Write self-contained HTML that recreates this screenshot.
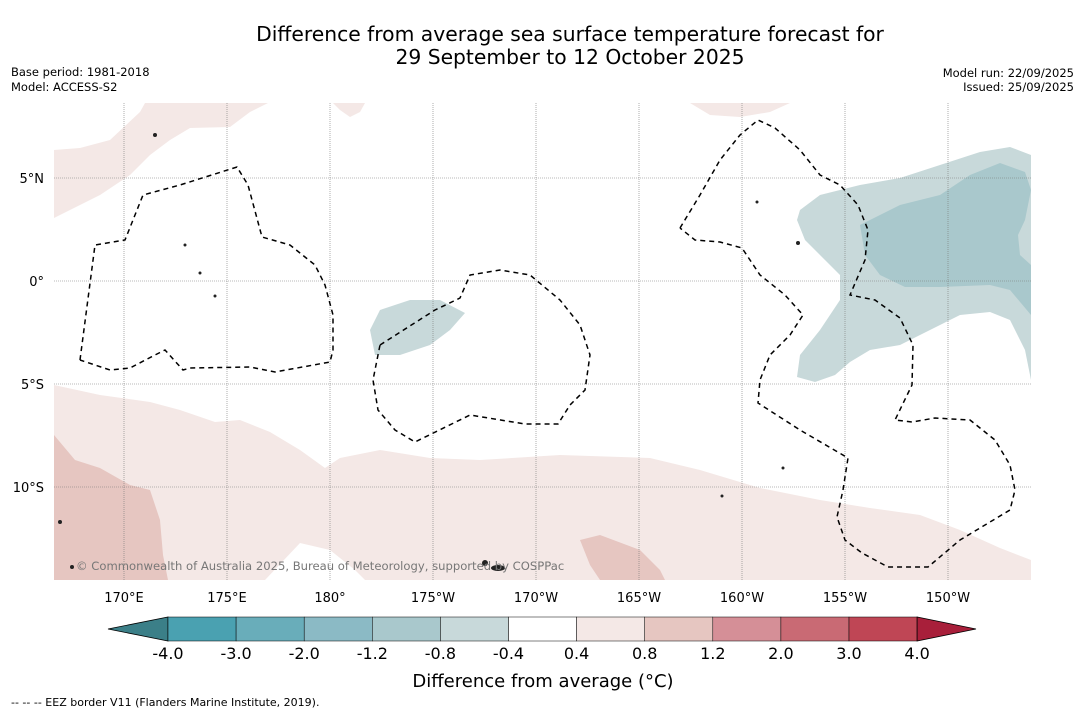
<!DOCTYPE html>
<html><head><meta charset="utf-8"><style>
body{margin:0;background:#fff;font-family:"DejaVu Sans","Liberation Sans",sans-serif}
svg{display:block;font-family:"DejaVu Sans","Liberation Sans",sans-serif}
</style></head><body>
<svg width="1085" height="713" viewBox="0 0 1085 713">
<text x="570" y="41" text-anchor="middle" font-size="20.3">Difference from average sea surface temperature forecast for</text>
<text x="570" y="64" text-anchor="middle" font-size="20.3">29 September to 12 October 2025</text>
<text x="11" y="76" font-size="11.5">Base period: 1981-2018</text>
<text x="11" y="91" font-size="11.5">Model: ACCESS-S2</text>
<text x="1074" y="77" font-size="11.5" text-anchor="end">Model run: 22/09/2025</text>
<text x="1074" y="91" font-size="11.5" text-anchor="end">Issued: 25/09/2025</text>
<defs><clipPath id="mc"><rect x="54" y="103" width="977" height="477"/></clipPath></defs>
<g clip-path="url(#mc)">
<rect x="54" y="103" width="977" height="477" fill="#fff"/>
<polygon fill="#f4e8e6" points="54,150 80,148 110,140 140,112 145,103 268,103 250,112 230,127 190,128 170,140 150,155 130,175 100,195 80,205 54,218"/>
<polygon fill="#f4e8e6" points="333,103 365,103 360,112 350,117 340,110"/>
<polygon fill="#f4e8e6" points="690,103 790,103 770,112 740,117 710,115"/>
<polygon fill="#c8d9da" points="800,210 820,195 860,185 900,178 940,165 980,152 1010,147 1031,155 1031,380 1025,350 1010,320 990,312 960,315 930,330 900,345 870,350 850,362 835,375 815,382 797,377 800,355 820,330 840,300 840,275 825,260 805,240 797,220"/>
<polygon fill="#a9c8cc" points="860,225 900,205 940,195 970,175 1000,163 1025,172 1031,190 1025,220 1018,235 1020,255 1031,265 1031,315 1010,290 990,285 940,287 905,287 880,275 865,255"/>
<polygon fill="#c8d9da" points="370,330 380,310 410,300 440,300 465,313 450,330 430,345 400,355 375,355"/>
<polygon fill="#f4e8e6" points="54,385 100,395 150,402 180,410 215,422 240,420 270,432 300,450 325,468 340,458 380,450 430,458 480,460 560,455 650,458 700,470 760,488 820,500 870,508 920,515 960,530 1000,548 1031,560 1031,580 54,580"/>
<polygon fill="#fff" points="265,580 300,543 330,550 355,570 365,580"/>
<polygon fill="#e6c6c1" points="54,435 75,460 100,468 130,485 150,490 160,520 163,555 168,580 54,580"/>
<polygon fill="#e6c6c1" points="580,540 600,535 640,550 660,570 665,580 600,580 590,565"/>
<g id="grid" stroke="#777" stroke-width="0.6" stroke-dasharray="1,1"></g>
<g fill="none" stroke="#000" stroke-width="1.5" stroke-dasharray="5,4">
<polyline points="80,360 95,245 125,240 143,195 180,185 237,167 248,185 262,237 290,245 315,265 325,285 333,315 333,350 330,362 275,372 250,367 190,368 183,370 165,350 155,355 130,368 110,370 80,360"/>
<polyline points="380,345 435,310 460,298 470,275 500,270 530,275 560,300 580,325 590,355 585,390 570,405 558,424 525,424 470,415 415,442 395,430 378,410 373,380 380,345"/>
<polyline points="680,228 700,195 720,160 740,135 758,120 775,128 800,150 820,175 840,185 858,205 868,230 865,260 850,295 875,300 900,318 913,345 912,385 895,420 912,422 935,418 970,420 995,440 1010,465 1015,490 1010,510 985,525 960,540 928,567 888,567 862,553 845,540 837,517 843,490 848,458 800,430 758,403 760,380 770,355 790,335 803,315 785,295 760,275 742,248 720,242 695,240 680,228"/>
</g>
<g fill="#222">
<circle cx="155" cy="135" r="2"/><circle cx="185" cy="245" r="1.5"/><circle cx="200" cy="273" r="1.5"/><circle cx="215" cy="296" r="1.5"/>
<circle cx="798" cy="243" r="2"/><circle cx="757" cy="202" r="1.5"/><ellipse cx="498" cy="568" rx="7" ry="3"/><circle cx="485" cy="563" r="3"/>
<circle cx="60" cy="522" r="2"/><circle cx="72" cy="567" r="2"/><circle cx="722" cy="496" r="1.5"/><circle cx="783" cy="468" r="1.5"/>
</g>
<text x="76" y="570" font-size="11.6" fill="#777">© Commonwealth of Australia 2025, Bureau of Meteorology, supported by COSPPac</text>
</g>
<g id="axlabels" font-size="13"></g>
<g id="cbar"></g>
<text x="543" y="687" text-anchor="middle" font-size="18">Difference from average (°C)</text>
<text x="11" y="706" font-size="11">--  --  -- EEZ border V11 (Flanders Marine Institute, 2019).</text>
</svg>
<script>
const lonLabels=["170°E","175°E","180°","175°W","170°W","165°W","160°W","155°W","150°W"];
const lonValues=[170,175,180,185,190,195,200,205,210];
const latLabels=["5°N","0°","5°S","10°S"];
const latValues=[5,0,-5,-10];
const cbTicks=["-4.0","-3.0","-2.0","-1.2","-0.8","-0.4","0.4","0.8","1.2","2.0","3.0","4.0"];
const cbColors=["#4aa1b1","#69adba","#8bbac5","#a9c8cc","#c8d9da","#ffffff","#f4e8e6","#e6c6c1","#d58f97","#c96a74","#bf4655"];
const NS="http://www.w3.org/2000/svg";
const xOf=l=>124+(l-170)*20.6, yOf=t=>281-t*20.6;
const grid=document.getElementById('grid'),ax=document.getElementById('axlabels'),cb=document.getElementById('cbar');
function mk(tag,attrs,parent){const e=document.createElementNS(NS,tag);for(const k in attrs)e.setAttribute(k,attrs[k]);parent.appendChild(e);return e;}
lonValues.forEach((v,i)=>{const x=xOf(v);
const l=mk('line',{x1:x,x2:x,y1:103,y2:580},grid);


const t=mk('text',{x:x,y:602,'text-anchor':'middle'},ax);t.textContent=lonLabels[i];

});
latValues.forEach((v,i)=>{const y=yOf(v);
const l=mk('line',{x1:54,x2:1031,y1:y,y2:y},grid);


const t=mk('text',{x:44,y:y+5,'text-anchor':'end'},ax);t.textContent=latLabels[i];

});
const x0=168,w=68.1,y0=617,h=24;
const tl=mk('polygon',{points:`${x0},${y0} ${x0},${y0+h} 108,${y0+h/2}`,fill:'#3b7f88',stroke:'#000','stroke-width':0.8},cb);


cbColors.forEach((c,i)=>{const r=mk('rect',{x:x0+i*w,y:y0,width:w,height:h,fill:c,stroke:'#000','stroke-width':0.5},cb);

});
const xe=x0+cbColors.length*w;
const tr=mk('polygon',{points:`${xe},${y0} ${xe},${y0+h} 976,${y0+h/2}`,fill:'#a81f3a',stroke:'#000','stroke-width':0.8},cb);


cbTicks.forEach((s,i)=>{const t=mk('text',{x:x0+i*w,y:659,'text-anchor':'middle','font-size':16},cb);t.textContent=s;

});
</script>
</body></html>
